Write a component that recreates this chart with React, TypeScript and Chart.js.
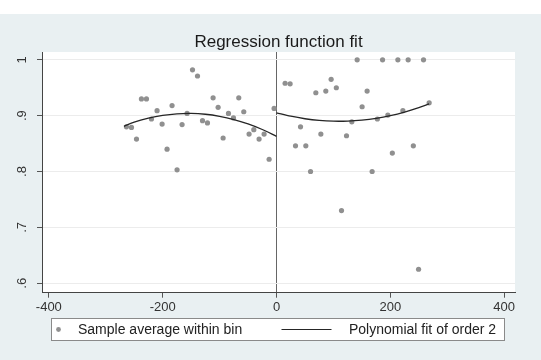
import React, { useEffect, useRef } from 'react';
import { Chart, registerables } from 'chart.js';

Chart.register(...registerables);

// Bin midpoints (running variable) and sample averages within each bin
const binX = [
  -263.6, -254.8, -246, -237.3, -228.5, -219.7, -209.8, -201, -192.3, -183.5,
  -174.7, -165.9, -157.1, -147.6, -138.8, -130, -121.3, -111.4, -102.6, -93.8,
  -84.4, -75.6, -66.3, -57.5, -48.2, -39.9, -30.6, -21.8, -13, -4.2,
  15.1, 23.9, 33.4, 42.2, 51.5, 59.8, 69.1, 77.9, 86.6, 96.0,
  105.1, 114.2, 123.0, 132.3, 141.7, 150.4, 159.2, 168.0, 177.2, 186.3,
  195.6, 203.5, 213.2, 222.0, 231.3, 240.4, 249.6, 258.3, 268.2,
];
const binY = [
  0.880, 0.879, 0.858, 0.930, 0.930, 0.894, 0.909, 0.885, 0.840, 0.918,
  0.803, 0.884, 0.904, 0.982, 0.971, 0.891, 0.887, 0.932, 0.915, 0.860,
  0.904, 0.896, 0.932, 0.907, 0.867, 0.875, 0.858, 0.867, 0.822, 0.913,
  0.958, 0.957, 0.846, 0.880, 0.846, 0.800, 0.941, 0.867, 0.944, 0.965,
  0.950, 0.730, 0.864, 0.889, 1.0, 0.916, 0.944, 0.800, 0.894, 1.0,
  0.901, 0.833, 1.0, 0.909, 1.0, 0.846, 0.625, 1.0, 0.923,
];

// Polynomial fit (order 2), left of cutoff
const fitLeftX = [-268, -250, -225, -200, -175, -150, -125, -100, -75, -50, -25, 0];
const fitLeftY = [0.881, 0.8886, 0.8956, 0.9005, 0.9033, 0.904, 0.9025, 0.8988, 0.8931, 0.8852, 0.8752, 0.863];

// Polynomial fit (order 2), right of cutoff
const fitRightX = [0, 25, 50, 75, 100, 125, 150, 175, 200, 225, 250, 268];
const fitRightY = [0.905, 0.899, 0.8945, 0.8915, 0.8901, 0.8903, 0.892, 0.8952, 0.900, 0.9064, 0.9143, 0.921];

const xTicks = [-400, -200, 0, 200, 400];
const xTickLabels = ['-400', '-200', '0', '200', '400'];
const yTicks = [0.6, 0.7, 0.8, 0.9, 1];
const yTickLabels = ['.6', '.7', '.8', '.9', '1'];
const cutoff = 0;

const titleText = 'Regression function fit';
const legendLabels = ['Sample average within bin', 'Polynomial fit of order 2'];

const X_MIN = -412;
const X_MAX = 419;
const Y_MIN = 0.583;
const Y_MAX = 1.014;

const FONT = '"Liberation Sans", Arial, sans-serif';
const DOT_COLOR = '#909090';
const LINE_COLOR = '#262626';

const backgroundPlugin = {
  id: 'stataBackground',
  beforeDraw(chart: any) {
    const { ctx, width, height, chartArea } = chart;
    ctx.save();
    ctx.fillStyle = '#ffffff';
    ctx.fillRect(0, 0, width, height);
    ctx.fillStyle = '#e9f0f2';
    ctx.fillRect(0, 14, width, height - 14);
    ctx.fillStyle = '#ffffff';
    ctx.fillRect(chartArea.left, chartArea.top, chartArea.right - chartArea.left, chartArea.bottom - chartArea.top);
    ctx.restore();
  },
};

const titlePlugin = {
  id: 'stataTitle',
  afterDraw(chart: any) {
    const { ctx, chartArea } = chart;
    ctx.save();
    ctx.font = `17px ${FONT}`;
    ctx.fillStyle = '#1a1a1a';
    ctx.textAlign = 'center';
    ctx.textBaseline = 'alphabetic';
    ctx.fillText(titleText, (chartArea.left + chartArea.right) / 2, 47);
    ctx.restore();
  },
};

const legendPlugin = {
  id: 'stataLegend',
  afterDraw(chart: any) {
    const { ctx } = chart;
    const left = 51.5;
    const right = 504.5;
    const top = 318.5;
    const h = 22;
    const cy = top + h / 2;
    ctx.save();
    ctx.fillStyle = '#ffffff';
    ctx.fillRect(left, top, right - left, h);
    ctx.strokeStyle = '#8a8a8a';
    ctx.lineWidth = 1;
    ctx.strokeRect(left, top, right - left, h);
    // marker
    ctx.fillStyle = DOT_COLOR;
    ctx.beginPath();
    ctx.arc(58.5, cy, 2.4, 0, Math.PI * 2);
    ctx.fill();
    ctx.font = `14px ${FONT}`;
    ctx.fillStyle = '#222';
    ctx.textAlign = 'left';
    ctx.textBaseline = 'middle';
    ctx.fillText(legendLabels[0], 78, cy + 0.5);
    // line
    ctx.strokeStyle = LINE_COLOR;
    ctx.lineWidth = 1.2;
    ctx.beginPath();
    ctx.moveTo(281.5, cy);
    ctx.lineTo(331.5, cy);
    ctx.stroke();
    ctx.fillText(legendLabels[1], 349, cy + 0.5);
    ctx.restore();
  },
};

export default function App() {
  const canvasRef = useRef<HTMLCanvasElement | null>(null);

  useEffect(() => {
    document.body.style.margin = '0';
    const canvas = canvasRef.current;
    if (!canvas) return;

    const chart = new Chart(canvas, {
      type: 'scatter',
      data: {
        datasets: [
          {
            label: legendLabels[0],
            data: binX.map((x, i) => ({ x, y: binY[i] })),
            pointRadius: 2.6,
            pointBackgroundColor: DOT_COLOR,
            pointBorderWidth: 0,
            showLine: false,
            order: 2,
          },
          {
            label: legendLabels[1],
            data: fitLeftX.map((x, i) => ({ x, y: fitLeftY[i] })),
            showLine: true,
            pointRadius: 0,
            borderColor: LINE_COLOR,
            borderWidth: 1.3,
            tension: 0.3,
            order: 1,
          },
          {
            label: legendLabels[1] + ' (right)',
            data: fitRightX.map((x, i) => ({ x, y: fitRightY[i] })),
            showLine: true,
            pointRadius: 0,
            borderColor: LINE_COLOR,
            borderWidth: 1.3,
            tension: 0.3,
            order: 1,
          },
        ],
      },
      options: {
        animation: false,
        responsive: false,
        devicePixelRatio: 1,
        events: [],
        layout: { padding: { top: 52, right: 26, left: 0, bottom: 0 } },
        plugins: {
          legend: { display: false },
          title: { display: false },
          tooltip: { enabled: false },
        },
        scales: {
          x: {
            type: 'linear',
            min: X_MIN,
            max: X_MAX,
            afterBuildTicks: (s: any) => {
              s.ticks = xTicks.map((v) => ({ value: v }));
            },
            afterFit: (s: any) => {
              s.height = 67.3;
            },
            ticks: {
              callback: (v: any) => xTickLabels[xTicks.indexOf(Number(v))],
              font: { family: FONT, size: 13 },
              color: '#333',
              padding: 2,
              maxRotation: 0,
              minRotation: 0,
            },
            grid: {
              color: (c: any) => (c.tick && c.tick.value === cutoff ? '#666' : 'rgba(0,0,0,0)'),
              tickColor: '#555',
              tickLength: 5,
              lineWidth: 1,
            },
            border: { color: '#444', width: 1 },
          },
          y: {
            type: 'linear',
            min: Y_MIN,
            max: Y_MAX,
            afterBuildTicks: (s: any) => {
              s.ticks = yTicks.map((v) => ({ value: v }));
            },
            afterFit: (s: any) => {
              s.width = 42;
            },
            ticks: {
              callback: (v: any) => yTickLabels[yTicks.indexOf(Number(v))],
              font: { family: FONT, size: 13 },
              color: '#333',
              minRotation: 90,
              maxRotation: 90,
              crossAlign: 'center',
              padding: 9,
            },
            grid: {
              color: '#ececec',
              tickColor: '#555',
              tickLength: 5,
              lineWidth: 1,
            },
            border: { color: '#444', width: 1 },
          },
        },
      } as any,
      plugins: [backgroundPlugin, titlePlugin, legendPlugin],
    });

    return () => {
      chart.destroy();
    };
  }, []);

  return (
    <div style={{ width: 541, height: 360 }}>
      <canvas ref={canvasRef} width={541} height={360} />
    </div>
  );
}
